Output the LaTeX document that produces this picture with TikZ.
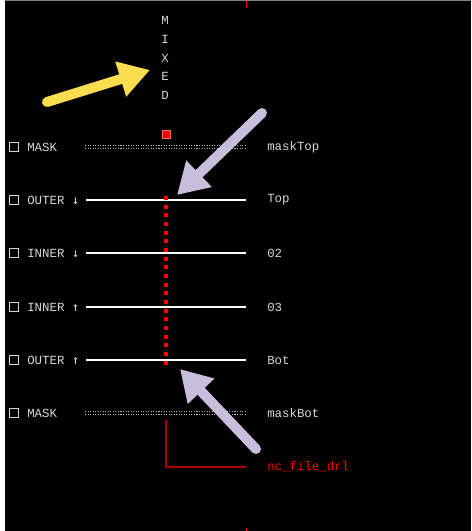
\documentclass[tikz,border=0pt]{standalone}
\usepackage{fontspec}
\setmonofont{Liberation Mono}
\newfontfamily\symfont{DejaVu Sans Mono}
\usepackage{tikz}
\usetikzlibrary{positioning,arrows.meta}
\definecolor{lgray}{RGB}{215,215,215}
\definecolor{lilac}{RGB}{200,190,220}
\definecolor{sun}{RGB}{250,222,80}
\definecolor{drlred}{RGB}{175,0,0}

\begin{document}
\begin{tikzpicture}
[x=0.75pt, y=-0.75pt, font=\ttfamily\fontsize{9.3}{14}\selectfont,
% STYLES
% The check style is used to draw the small box in front of each layer
check/.style={rectangle, draw=lgray, line width=0.75pt, minimum size=6.5pt, inner sep=0pt},
% The layer style is used to write the layer names on the left
layer/.style={anchor=west, text=lgray, inner sep=0pt},
% The stackname style is used to write the names on the right
stackname/.style={anchor=west, text=lgray, inner sep=0pt},
% The copper style is used to draw the signal layers
copper/.style={draw=white, line width=1.5pt},
% The maskline style is used to draw the dotted mask layers
maskline/.style={draw=lgray!85!black, line width=0.8pt, double=black, double distance=1.1pt, dash pattern=on 0.8pt off 1.1pt},
% The hint style is used to draw the big pointing arrows
hint/.style={line width=7.5pt, line cap=round, -{Triangle[length=23pt, width=26pt]}}]

% background
\useasboundingbox (0,0) rectangle (471,531);
\fill[white] (0,0) rectangle (471,531);
\fill[black] (5,1.5) rectangle (471,531);
\fill[gray] (5,0) rectangle (471,1.5);
\draw[red, line width=0.75pt] (246,1.5) -- (246,8);
\draw[red, line width=0.75pt] (246,528) -- (246,531);

% Draw the header
\node [text=lgray, align=center, inner sep=0pt] (mixed) at (165,58) {M\\I\\X\\E\\D};
\node [rectangle, fill=red, draw=red!60!white, line width=0.4pt, minimum size=6pt, inner sep=0pt] (drill) at (166,134) {};

%%%%%%%%%%%%%%%
% Draw the layers

% mask top
\node [check] (chk1) at (14,147) {};
\node [layer] (masktop-l) at (27,147) {MASK};
\node [stackname] (masktop) at (267,147) {maskTop};
\draw [maskline] (85,147) -- (245,147);

% outer top
\node [check] (chk2) at (14,200) {};
\node [layer] (top-l) at (27,200) {OUTER {\symfont ↓}};
\node [stackname] (top) at (267,200) {Top};
\draw [copper] (86,200) -- (246,200);

% inner 02
\node [check] (chk3) at (14,253) {};
\node [layer] (in2-l) at (27,253) {INNER {\symfont ↓}};
\node [stackname] (in2) at (267,253) {02};
\draw [copper] (86,253) -- (246,253);

% inner 03
\node [check] (chk4) at (14,307) {};
\node [layer] (in3-l) at (27,307) {INNER {\symfont ↑}};
\node [stackname] (in3) at (267,307) {03};
\draw [copper] (86,307) -- (246,307);

% outer bottom
\node [check] (chk5) at (14,360) {};
\node [layer] (bot-l) at (27,360) {OUTER {\symfont ↑}};
\node [stackname] (bot) at (267,360) {Bot};
\draw [copper] (86,360) -- (246,360);

% mask bottom
\node [check] (chk6) at (14,413) {};
\node [layer] (maskbot-l) at (27,413) {MASK};
\node [stackname] (maskbot) at (267,413) {maskBot};
\draw [maskline] (85,413) -- (245,413);

%%%%%%%%%%%%%%%

% Draw the drill span and its file
\draw [red, line width=3pt, dash pattern=on 3pt off 3.5pt] (166,196) -- (166,369);
\node [anchor=west, text=red, inner sep=0pt] (drl) at (267,467) {nc\_file\_drl};
\coordinate (drlend) at (246,467);
\draw [drlred, line width=0.9pt] (166,420) |- (drlend);

% Draw the pointing arrows
\coordinate (ytail) at (47,102);
\coordinate (ltail1) at (262,113);
\coordinate (ltail2) at (256,449);
\draw [hint, sun] (ytail) -- (150,70);
\draw [hint, lilac] (ltail1) -- (177,195);
\draw [hint, lilac] (ltail2) -- (180,369);

\end{tikzpicture}
\end{document}
